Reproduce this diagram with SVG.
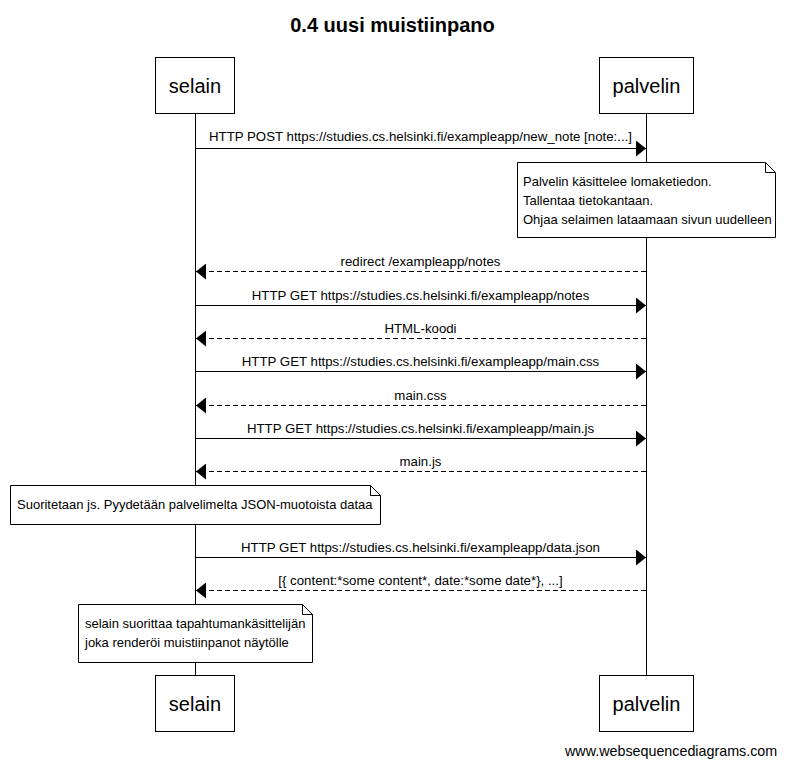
<svg xmlns="http://www.w3.org/2000/svg" width="785" height="766" viewBox="0 0 785 766">
  <style>
    text { font-family: "Liberation Sans", Arial, sans-serif; fill: #000; }
    .title { font-size: 20px; font-weight: bold; text-anchor: middle; }
    .actor rect { fill: #fff; stroke: #000; stroke-width: 1; }
    .actor text { font-size: 20px; text-anchor: middle; }
    .life { stroke: #000; stroke-width: 1; }
    .msg { stroke: #000; stroke-width: 1; fill: none; }
    .ret { stroke-dasharray: 5 3; }
    .lbl { font-size: 13.25px; text-anchor: middle; }
    .note path { fill: #fff; stroke: #000; stroke-width: 1; }
    .note text { font-size: 13px; }
    .foot { font-size: 14.3px; }
  </style>
  <defs>
    <marker id="arrow" viewBox="0 0 10 16" refX="10" refY="8" markerWidth="10" markerHeight="16" markerUnits="userSpaceOnUse" orient="auto">
      <path d="M0,0 L10,8 L0,16 Z" fill="#000"/>
    </marker>
  </defs>

  <rect width="785" height="766" fill="#fff"/>

  <text class="title" x="392.5" y="32">0.4 uusi muistiinpano</text>

  <!-- lifelines -->
  <g id="lifelines">
    <line class="life" x1="195.5" y1="113" x2="195.5" y2="676"/>
    <line class="life" x1="646.5" y1="113" x2="646.5" y2="676"/>
  </g>

  <!-- participants, top and bottom -->
  <g id="selain" class="actor">
    <rect x="155.5" y="57.5" width="79" height="56"/>
    <text x="195" y="93">selain</text>
    <rect x="155.5" y="675.5" width="79" height="56"/>
    <text x="195" y="711">selain</text>
  </g>
  <g id="palvelin" class="actor">
    <rect x="599.5" y="57.5" width="94" height="56"/>
    <text x="646.5" y="93">palvelin</text>
    <rect x="599.5" y="675.5" width="94" height="56"/>
    <text x="646.5" y="711">palvelin</text>
  </g>

  <!-- messages -->
  <g id="connectors">
    <line class="msg" x1="196" y1="148.5" x2="646" y2="148.5" marker-end="url(#arrow)"/>
    <text class="lbl" x="420.5" y="141">HTTP POST https://studies.cs.helsinki.fi/exampleapp/new_note [note:...]</text>

    <line class="msg ret" x1="646" y1="271.5" x2="196" y2="271.5" marker-end="url(#arrow)"/>
    <text class="lbl" x="420.5" y="266">redirect /exampleapp/notes</text>

    <line class="msg" x1="196" y1="305.5" x2="646" y2="305.5" marker-end="url(#arrow)"/>
    <text class="lbl" x="420.5" y="300">HTTP GET https://studies.cs.helsinki.fi/exampleapp/notes</text>

    <line class="msg ret" x1="646" y1="338.5" x2="196" y2="338.5" marker-end="url(#arrow)"/>
    <text class="lbl" x="420.5" y="333">HTML-koodi</text>

    <line class="msg" x1="196" y1="371.5" x2="646" y2="371.5" marker-end="url(#arrow)"/>
    <text class="lbl" x="420.5" y="366">HTTP GET https://studies.cs.helsinki.fi/exampleapp/main.css</text>

    <line class="msg ret" x1="646" y1="405.5" x2="196" y2="405.5" marker-end="url(#arrow)"/>
    <text class="lbl" x="420.5" y="400">main.css</text>

    <line class="msg" x1="196" y1="438.5" x2="646" y2="438.5" marker-end="url(#arrow)"/>
    <text class="lbl" x="420.5" y="433">HTTP GET https://studies.cs.helsinki.fi/exampleapp/main.js</text>

    <line class="msg ret" x1="646" y1="471.5" x2="196" y2="471.5" marker-end="url(#arrow)"/>
    <text class="lbl" x="420.5" y="466">main.js</text>

    <line class="msg" x1="196" y1="557.5" x2="646" y2="557.5" marker-end="url(#arrow)"/>
    <text class="lbl" x="420.5" y="552">HTTP GET https://studies.cs.helsinki.fi/exampleapp/data.json</text>

    <line class="msg ret" x1="646" y1="590.5" x2="196" y2="590.5" marker-end="url(#arrow)"/>
    <text class="lbl" x="420.5" y="585">[{ content:*some content*, date:*some date*}, ...]</text>
  </g>

  <!-- notes -->
  <g id="note-server" class="note">
    <path d="M517.5,162.5 H765.5 L775.5,172.5 V237.5 H517.5 Z M765.5,162.5 V172.5 H775.5"/>
    <text x="523" y="186">Palvelin käsittelee lomaketiedon.</text>
    <text x="523" y="205">Tallentaa tietokantaan.</text>
    <text x="523" y="224">Ohjaa selaimen lataamaan sivun uudelleen</text>
  </g>
  <g id="note-js" class="note">
    <path d="M10.5,485.5 H370.5 L380.5,495.5 V524.5 H10.5 Z M370.5,485.5 V495.5 H380.5"/>
    <text x="17" y="509">Suoritetaan js. Pyydetään palvelimelta JSON-muotoista dataa</text>
  </g>
  <g id="note-render" class="note">
    <path d="M78.5,604.5 H302.5 L312.5,614.5 V662.5 H78.5 Z M302.5,604.5 V614.5 H312.5"/>
    <text x="85" y="628">selain suorittaa tapahtumankäsittelijän</text>
    <text x="85" y="647">joka renderöi muistiinpanot näytölle</text>
  </g>

  <text class="foot" x="565" y="756">www.websequencediagrams.com</text>
</svg>
